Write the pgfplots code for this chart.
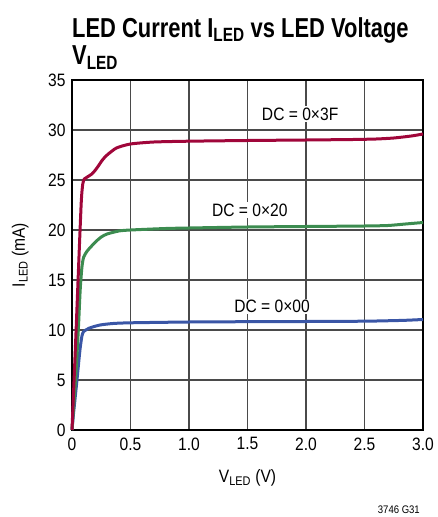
\documentclass[border=0pt]{standalone}
\usepackage{fontspec}
\setmainfont{Liberation Sans}[FakeStretch=0.87]
\newfontfamily\titlefont{Liberation Sans}[FakeStretch=0.80]
\usepackage{pgfplots}
\pgfplotsset{compat=1.18}
\definecolor{cred}{HTML}{A0063A}
\definecolor{cgreen}{HTML}{3C8C50}
\definecolor{cblue}{HTML}{3A56A6}
\definecolor{cgrid}{HTML}{4A4A4A}
\newcommand\lbl{\fontsize{18}{20}\selectfont}
\begin{document}
\begin{tikzpicture}
\path (0bp,0bp) rectangle (437bp,517bp);
\node[anchor=north west, align=left, inner sep=0pt, font=\titlefont\bfseries\fontsize{27.5}{28}\selectfont] at (72bp,500bp)
  {LED Current I\textsubscript{LED} vs LED Voltage\\V\textsubscript{LED}};
\begin{axis}[
  at={(72bp,87bp)}, anchor=south west,
  scale only axis, width=351bp, height=350bp,
  xmin=0, xmax=3, ymin=0, ymax=35,
  xtick={0,0.5,1,1.5,2,2.5,3},
  xticklabels={0,0.5,1.0,1.5,2.0,2.5,3.0},
  ytick={0,5,10,15,20,25,30,35},
  major tick length=0pt,
  grid=major,
  grid style={cgrid, line width=1.1bp},
  axis line style={black, line width=1.4bp},
  tick label style={font=\lbl},
  /pgf/number format/assume math mode=true,
  xticklabel style={yshift=-4bp},
  yticklabel style={xshift=-3bp},
  xlabel={V\textsubscript{LED} (V)},
  ylabel={I\textsubscript{LED} (mA)},
  label style={font=\lbl},
  xlabel style={at={(axis description cs:0.5,-0.151)}, anchor=base},
  ylabel style={at={(axis description cs:-0.134,0.5)}, anchor=base},
  clip=false,
]
\addplot[cblue, line width=3bp, smooth, tension=0.4] coordinates {
(0,0) (0.01,1.3) (0.04,4.7) (0.068,8) (0.085,9.4) (0.1,9.85) (0.15,10.2) (0.24,10.5) (0.35,10.65) (0.5,10.72) (1.0,10.8) (1.5,10.83) (2.0,10.85) (2.5,10.88) (2.72,10.93) (2.85,10.97) (3.0,11.05)};
\addplot[cgreen, line width=3bp, smooth, tension=0.4] coordinates {
(0,0) (0.03,5) (0.054,10) (0.07,14) (0.085,16.3) (0.1,17.3) (0.13,17.9) (0.16,18.3) (0.2,18.8) (0.25,19.3) (0.3,19.6) (0.4,19.9) (0.5,20.0) (0.8,20.15) (1.0,20.2) (1.5,20.3) (2.0,20.35) (2.5,20.4) (2.7,20.45) (2.85,20.6) (3.0,20.75)};
\addplot[cred, line width=3bp, smooth, tension=0.4] coordinates {
(0,0) (0.03,8.5) (0.062,18) (0.08,23) (0.092,24.6) (0.105,25.1) (0.13,25.3) (0.17,25.6) (0.2,26) (0.225,26.4) (0.26,27) (0.3,27.5) (0.38,28.2) (0.5,28.6) (0.7,28.8) (1.0,28.88) (1.5,28.95) (2.0,29.0) (2.4,29.05) (2.6,29.1) (2.75,29.2) (2.9,29.4) (3.0,29.6)};
\node[fill=white, inner sep=1.5pt, font=\lbl] at (axis cs:1.95,31.6) {DC = 0×3F};
\node[fill=white, inner sep=1.5pt, font=\lbl] at (axis cs:1.52,22.0) {DC = 0×20};
\node[fill=white, inner sep=1.5pt, font=\lbl] at (axis cs:1.71,12.35) {DC = 0×00};
\end{axis}
\node[anchor=base east, inner sep=0pt, font=\fontsize{11}{12}\selectfont] at (420bp,4bp) {3746 G31};
\end{tikzpicture}
\end{document}
